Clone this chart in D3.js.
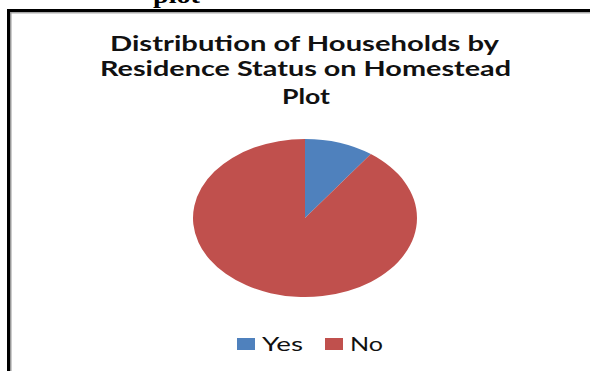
<!DOCTYPE html>
<html>
<head>
<meta charset="utf-8">
<script src="https://cdn.jsdelivr.net/npm/d3@7"></script>
<style>
  html, body { margin: 0; padding: 0; background: #fff; }
  svg { display: block; }
</style>
</head>
<body>
<svg id="chart" width="590" height="371"></svg>
<script>
// Residence status of households on the homestead plot (percent)
const categories = ["Yes", "No"];
const values = [10, 90];
const colors = ["#4F81BD", "#C0504D"];
const titleLines = ["Distribution of Households by", "Residence Status on Homestead", "Plot"];
const captionTail = "plot";

const svg = d3.select("#chart");

// Tail of the document caption above the figure frame
svg.append("text")
  .attr("x", 153).attr("y", 3)
  .attr("textLength", 47).attr("lengthAdjust", "spacingAndGlyphs")
  .style("font-family", "'Liberation Serif', 'DejaVu Serif', serif")
  .style("font-weight", "bold")
  .style("font-size", "24px")
  .attr("fill", "#000")
  .text(captionTail);

// Frame: top and left rules with a grey inner shadow
svg.append("rect").attr("x", 7).attr("y", 9).attr("width", 583).attr("height", 3).attr("fill", "#000");
svg.append("rect").attr("x", 10).attr("y", 12).attr("width", 580).attr("height", 1.5).attr("fill", "#aaa");
svg.append("rect").attr("x", 7).attr("y", 9).attr("width", 3).attr("height", 362).attr("fill", "#000");
svg.append("rect").attr("x", 10).attr("y", 12).attr("width", 1.5).attr("height", 359).attr("fill", "#999");

// Title, three centred lines, stretched to the frame's wide aspect
const titleLayout = [
  { x: 110, w: 389, y: 51 },
  { x: 100, w: 411, y: 76 },
  { x: 282, w: 48,  y: 104 }
];
svg.append("g").selectAll("text")
  .data(titleLines)
  .join("text")
  .attr("x", (d, i) => titleLayout[i].x)
  .attr("y", (d, i) => titleLayout[i].y)
  .attr("textLength", (d, i) => titleLayout[i].w)
  .attr("lengthAdjust", "spacingAndGlyphs")
  .style("font-family", "Lato, 'Open Sans', sans-serif")
  .style("font-weight", "bold")
  .style("font-size", "20px")
  .attr("fill", "#111")
  .text(d => d);

// Pie, drawn as a circle and stretched horizontally into an ellipse
const ry = 79, rx = 112;
const pie = d3.pie().sort(null).value(d => d.value);
const arc = d3.arc().innerRadius(0).outerRadius(ry);
const data = categories.map((c, i) => ({ name: c, value: values[i], color: colors[i] }));

const pieG = svg.append("g")
  .attr("transform", `translate(305,218) scale(${rx / ry},1)`);
pieG.selectAll("path")
  .data(pie(data))
  .join("path")
  .attr("d", arc)
  .attr("fill", d => d.data.color);

// Legend
const legendX = d3.scaleOrdinal().domain(categories).range([237, 325]);
const legend = svg.append("g").selectAll("g")
  .data(data)
  .join("g")
  .attr("transform", d => `translate(${legendX(d.name)},338)`);
legend.append("rect")
  .attr("width", 18).attr("height", 12)
  .attr("fill", d => d.color);
legend.append("text")
  .attr("x", 25).attr("y", 13)
  .attr("textLength", (d, i) => i === 0 ? 41 : 33)
  .attr("lengthAdjust", "spacingAndGlyphs")
  .style("font-family", "Lato, 'Open Sans', sans-serif")
  .style("font-size", "19px")
  .attr("fill", "#111")
  .text(d => d.name);
</script>
</body>
</html>
